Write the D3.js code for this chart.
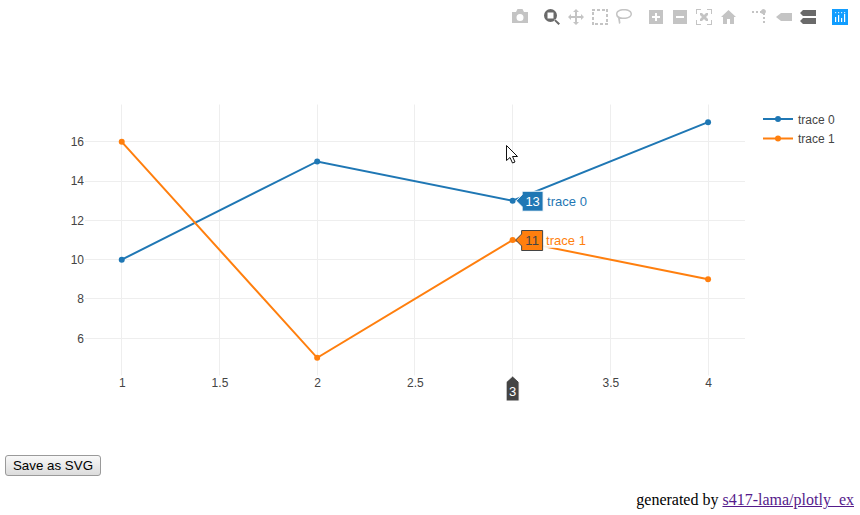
<!DOCTYPE html>
<html>
<head>
<meta charset="utf-8">
<script src="https://cdn.jsdelivr.net/npm/d3@7"></script>
<style>
  html, body { margin: 0; padding: 0; background: #fff; width: 860px; height: 515px; overflow: hidden; }
  #chart { position: absolute; left: 0; top: 0; }
  #save { position: absolute; left: 5px; top: 455px; width: 96px; height: 21px; padding: 0; box-sizing: border-box;
    font: 13.33px "Liberation Sans", Arial, sans-serif; color: #000;
    background: linear-gradient(#f8f8f8, #dcdcdc); border: 1px solid #9a9a9a; border-radius: 3px; }
  #credit { position: absolute; right: 6px; top: 491px; font: 16px "Liberation Serif", "Times New Roman", serif; color: #000; }
  #credit a { color: #551a8b; }
</style>
</head>
<body>
<div id="chart"></div>
<button id="save">Save as SVG</button>
<div id="credit">generated by <a href="#">s417-lama/plotly_ex</a></div>
<script>
const xValues = [1, 2, 3, 4];
const trace0 = [10, 15, 13, 17];
const trace1 = [16, 5, 11, 9];
const traceNames = ['trace 0', 'trace 1'];
const traceColors = ['#1f77b4', '#ff7f0e'];
const xGrid = [1, 1.5, 2, 2.5, 3, 3.5, 4];
// 3 is shown by the hover flag instead of a tick label
const xTickLabels = [1, 1.5, 2, 2.5, 3.5, 4];
const yTicks = [6, 8, 10, 12, 14, 16];
const hoverIndex = 2;

const fontFamily = '"Liberation Sans", Arial, sans-serif';
const plot = { left: 85, right: 745, top: 104.5, bottom: 375.5 };

const svg = d3.select('#chart').append('svg')
  .attr('width', 860)
  .attr('height', 515)
  .style('display', 'block')
  .style('font-family', fontFamily);

const x = d3.scaleLinear().domain([0.812, 4.189]).range([plot.left, plot.right]);
const y = d3.scaleLinear().domain([4.1, 17.9]).range([plot.bottom, plot.top]);
const crisp = v => Math.floor(v) + 0.5;

// grid
svg.append('g').selectAll('line').data(xGrid).enter().append('line')
  .attr('x1', d => crisp(x(d))).attr('x2', d => crisp(x(d)))
  .attr('y1', plot.top).attr('y2', plot.bottom)
  .attr('stroke', '#eee');
svg.append('g').selectAll('line').data(yTicks).enter().append('line')
  .attr('x1', plot.left).attr('x2', plot.right)
  .attr('y1', d => crisp(y(d))).attr('y2', d => crisp(y(d)))
  .attr('stroke', '#eee');

// axes
const xAxis = svg.append('g')
  .attr('transform', `translate(0,${plot.bottom - 0.5})`)
  .call(d3.axisBottom(x).tickValues(xTickLabels).tickFormat(d3.format('~g')).tickSize(0).tickPadding(3));
const yAxis = svg.append('g')
  .attr('transform', `translate(${plot.left},0)`)
  .call(d3.axisLeft(y).tickValues(yTicks).tickSize(0).tickPadding(1));
[xAxis, yAxis].forEach(a => {
  a.select('.domain').remove();
  a.selectAll('text').attr('fill', '#444').style('font-size', '12px').style('font-family', fontFamily);
});

// traces
const line = d3.line().x((d, i) => x(xValues[i])).y(d => y(d));
[trace0, trace1].forEach((values, t) => {
  const g = svg.append('g');
  g.append('path').datum(values)
    .attr('d', line)
    .attr('fill', 'none')
    .attr('stroke', traceColors[t])
    .attr('stroke-width', 2);
  g.selectAll('circle').data(values).enter().append('circle')
    .attr('cx', (d, i) => x(xValues[i]))
    .attr('cy', d => y(d))
    .attr('r', 3)
    .attr('fill', traceColors[t]);
});

// legend
const legend = svg.append('g').attr('transform', 'translate(763,0)');
traceNames.forEach((name, t) => {
  const ly = 119 + t * 19.5;
  legend.append('line').attr('x1', 0).attr('x2', 30).attr('y1', ly).attr('y2', ly)
    .attr('stroke', traceColors[t]).attr('stroke-width', 2);
  legend.append('circle').attr('cx', 15).attr('cy', ly).attr('r', 3).attr('fill', traceColors[t]);
  legend.append('text').attr('x', 35).attr('y', ly + 4.5)
    .attr('fill', '#444').style('font-size', '12px').text(name);
});

// hover labels
const fade = svg.append('defs').append('linearGradient').attr('id', 'fade');
fade.append('stop').attr('offset', '0%').attr('stop-color', '#fff').attr('stop-opacity', 0.95);
fade.append('stop').attr('offset', '100%').attr('stop-color', '#fff').attr('stop-opacity', 0);

[trace0, trace1].forEach((values, t) => {
  const cy = y(values[hoverIndex]);
  const hx = x(xValues[hoverIndex]) + 3.5 - t * 0.5;
  const g = svg.append('g').attr('transform', `translate(${hx},${cy})`);
  g.append('rect').attr('x', 27).attr('y', -8).attr('width', 45).attr('height', 16).attr('fill', 'url(#fade)');
  g.append('path')
    .attr('d', 'M0,0L6,-6V-9.5H27V10.5H6V6Z')
    .attr('fill', traceColors[t])
    .attr('stroke', t === 0 ? '#fff' : '#444')
    .attr('stroke-width', 1);
  g.append('text').attr('x', 16.5).attr('y', 5).attr('text-anchor', 'middle')
    .attr('fill', t === 0 ? '#fff' : '#444').style('font-size', '13px').text(values[hoverIndex]);
  g.append('text').attr('x', 31 - t * 0.5).attr('y', 5)
    .attr('fill', traceColors[t]).style('font-size', '13px').text(traceNames[t]);
});

// x axis hover flag
const flag = svg.append('g').attr('transform', `translate(${x(xValues[hoverIndex])},${plot.bottom + 0.5})`);
flag.append('path').attr('d', 'M0,0L6.5,6V25H-6.5V6Z').attr('fill', '#444').attr('stroke', '#fff').attr('stroke-width', 1);
flag.append('text').attr('y', 20).attr('text-anchor', 'middle').attr('fill', '#fff')
  .style('font-size', '13px').text(xValues[hoverIndex]);

// mouse pointer
svg.append('path')
  .attr('transform', 'translate(506.5,145.5)')
  .attr('d', 'M0,0V15L3.5,12L6,17.5L8.5,16.5L6,11H11Z')
  .attr('fill', '#fff').attr('stroke', '#111').attr('stroke-width', 1);

// modebar
const icons = [
  { x: 512, d: 'M0,3H4L5.5,0H10.5L12,3H16V14H0ZM8,5A3.5,3.5 0 1 0 8,12A3.5,3.5 0 1 0 8,5Z' },
  { x: 544, active: true, d: 'M6.5,0A6.5,6.5 0 1 1 6.5,13A6.5,6.5 0 1 1 6.5,0ZM3.5,3.5V9.5H9.5V3.5ZM11,10L16,14.5L14.5,16L10,11.5Z' },
  { x: 568, d: 'M8,0L11,3H9V7H13V5L16,8L13,11V9H9V13H11L8,16L5,13H7V9H3V11L0,8L3,5V7H7V3H5Z' },
  { x: 592, d: 'M0,0H3V2H0ZM5,0H8V2H5ZM10,0H13V2H10ZM14,0H16V3H14ZM14,5H16V8H14ZM14,10H16V13H14ZM14,14H16V16H13V14ZM8,14H11V16H8ZM3,14H6V16H3ZM0,13H2V16H0ZM0,8H2V11H0ZM0,3H2V6H0Z', ty: 9 },
  { x: 616, d: 'M8,0C13,0 16,2 16,5C16,8 12,10 8,10L4,10L4.5,14L3,15L2,9C0.5,8 0,6.5 0,5C0,2 3,0 8,0ZM8,1.5C4,1.5 1.5,3 1.5,5C1.5,7 4,8.5 8,8.5C12,8.5 14.5,7 14.5,5C14.5,3 12,1.5 8,1.5Z', ty: 9 },
  { x: 649, d: 'M0,0H14V14H0ZM6,3V6H3V8H6V11H8V8H11V6H8V3Z', ty: 10 },
  { x: 673, d: 'M0,0H14V14H0ZM3,6V8H11V6Z', ty: 10 },
  { x: 696, d: 'M0,0H5V1H1V5H0ZM11,0H16V5H15V1H11ZM0,11H1V15H5V16H0ZM15,11H16V16H11V15H15ZM4,4L6,4L8,6L10,4L12,4V6L10,8L12,10V12H10L8,10L6,12H4V10L6,8L4,6Z', ty: 9 },
  { x: 721, d: 'M7.5,0L15,7H13V14H9V9H6V14H2V7H0Z', ty: 10 },
  { x: 752, d: 'M0,2H2V4H0ZM4,2H6V4H4ZM8,2H9A2.5,2.5 0 1 1 13,4.5V6H11V5A2.5,2.5 0 0 1 9,4H8ZM11,8H13V10H11ZM11,12H13V14H11Z', ty: 9 },
  { x: 776, d: 'M0,8L5,4H16V12H5Z', ty: 9 },
  { x: 800, active: true, d: 'M3,0H16V6H3L0,3ZM3,8H16V14H3L0,11Z', ty: 10 }
];
const modebar = svg.append('g');
icons.forEach(icon => {
  modebar.append('path')
    .attr('transform', `translate(${icon.x},${icon.ty === undefined ? 9 : icon.ty})`)
    .attr('d', icon.d)
    .attr('fill', icon.active ? '#6a6a6a' : '#c4c4c4')
    .attr('fill-rule', 'evenodd');
});
// plotly logo
const logo = svg.append('g').attr('transform', 'translate(832,9)');
logo.append('rect').attr('width', 16).attr('height', 16).attr('fill', '#119dff');
[[3, 8, 5], [6, 6, 7], [9, 9, 4], [12, 5, 8]].forEach(b => {
  logo.append('rect').attr('x', b[0]).attr('y', b[1]).attr('width', 1.2).attr('height', b[2]).attr('fill', '#fff');
});
[3, 6, 9, 12].forEach(px => {
  logo.append('rect').attr('x', px).attr('y', 3).attr('width', 1.2).attr('height', 1.2).attr('fill', '#cfeaff');
});
</script>
</body>
</html>
